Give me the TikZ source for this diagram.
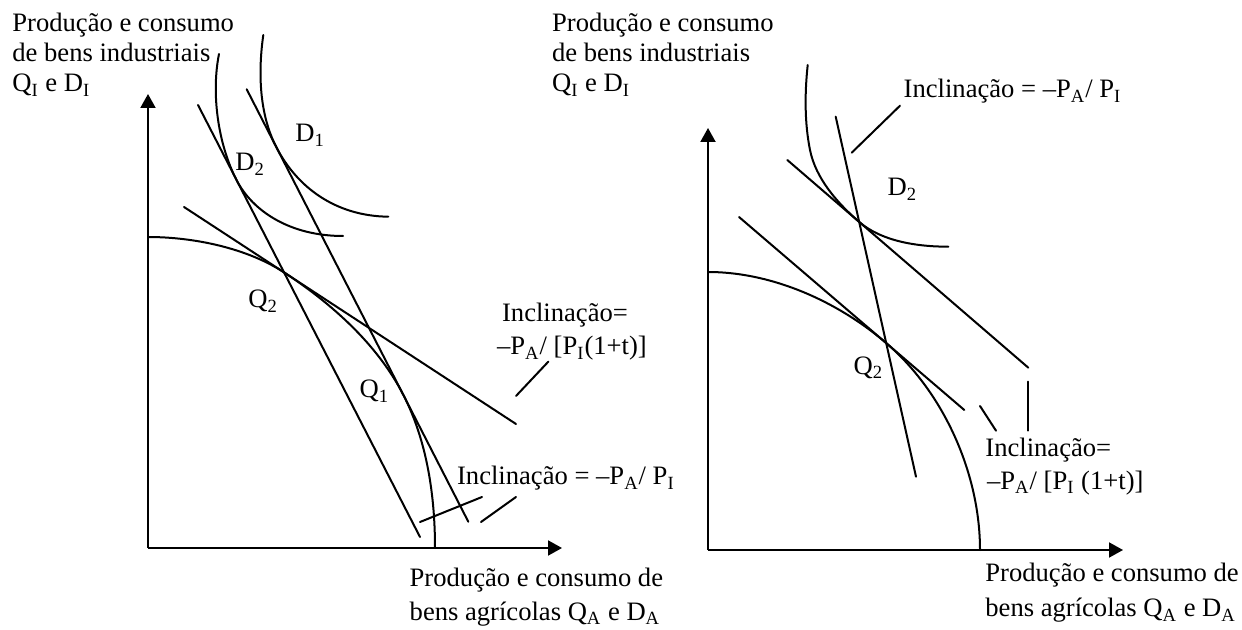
\documentclass[tikz,border=0pt]{standalone}
\usepackage{fontspec}
\setmainfont{Liberation Serif}
\usetikzlibrary{arrows.meta,calc}
\begin{document}
\begin{tikzpicture}[x=0.5pt,y=-0.5pt,
  curve/.style={line width=1pt,line cap=round},
  axisline/.style={line width=1pt,-{Triangle[length=7pt,width=7.5pt]}},
  lbl/.style={anchor=base west,inner sep=0pt,font=\fontsize{13.3}{15}\selectfont}]
\useasboundingbox (0,0) rectangle (1242,630);

% ================= LEFT PANEL =================
\coordinate (LO) at (148,548);
\coordinate (LY) at (148,94);
\coordinate (LX) at (562,548);
\draw[axisline] (LO) -- (LY);
\draw[axisline] (LO) -- (LX);

% price lines
\coordinate (A1) at (198,105);   \coordinate (A2) at (420,537);
\coordinate (B1) at (246.7,89.3);\coordinate (B2) at (468.3,521.7);
\coordinate (C1) at (184,207);   \coordinate (C2) at (516,424);
\draw[curve] (A1) -- (A2);
\draw[curve] (B1) -- (B2);
\draw[curve] (C1) -- (C2);

% production possibility frontier
\coordinate (S) at (148,237);
\coordinate (P) at (intersection of A1--A2 and C1--C2);
\coordinate (Q1p) at (403.4,395);
\coordinate (E) at (435,548);
\draw[curve] (S) .. controls (193,237) and ($(P)+(-37.7,-24.6)$) .. (P)
  .. controls ($(P)+(47.7,31.2)$) and ($(Q1p)+(-26,-50.7)$) .. (Q1p)
  .. controls ($(Q1p)+(23.7,46.3)$) and (435,496) .. (E);

% indifference curves
\coordinate (D2t) at (219,54);
\coordinate (T2) at (236.5,180);
\coordinate (D2e) at (343,236);
\draw[curve] (D2t) .. controls (211,94) and ($(T2)+(-18.3,-35.6)$) .. (T2)
  .. controls ($(T2)+(16,31.1)$) and (290,236) .. (D2e);
\coordinate (D1t) at (263.3,35);
\coordinate (T1) at (276.1,146.7);
\coordinate (D1e) at (388.3,216.7);
\draw[curve] (D1t) .. controls (258,72) and ($(T1)+(-16.9,-32.9)$) .. (T1)
  .. controls ($(T1)+(20.5,40.1)$) and (335,216) .. (D1e);

% leaders
\coordinate (L1a) at (548.3,361.7); \coordinate (L1b) at (516,396);
\coordinate (L2a) at (482,497);     \coordinate (L2b) at (420,522);
\coordinate (L3a) at (516,497);     \coordinate (L3b) at (481,522);
\draw[curve] (L1a) -- (L1b);
\draw[curve] (L2a) -- (L2b);
\draw[curve] (L3a) -- (L3b);

% labels
\node[lbl] (ly1) at (12,31.7) {Produção e consumo};
\node[lbl] (ly2) at (12,61.7) {de bens industriais};
\node[lbl] (ly3) at (12,92) {Q\textsubscript{I} e D\textsubscript{I}};
\node[lbl] (ld1) at (295,141.7) {D\textsubscript{1}};
\node[lbl] (ld2) at (235,170.7) {D\textsubscript{2}};
\node[lbl] (lq2) at (248,308) {Q\textsubscript{2}};
\node[lbl] (lq1) at (359.3,397.7) {Q\textsubscript{1}};
\node[lbl] (li1) at (501.7,321.7) {Inclinação=};
\node[lbl] (li2) at (496.7,355) {–P\textsubscript{A}/ [P\textsubscript{I}(1+t)]};
\node[lbl] (li3) at (456.7,485) {Inclinação = –P\textsubscript{A}/ P\textsubscript{I}};
\node[lbl] (lx1) at (409.3,586) {Produção e consumo de};
\node[lbl] (lx2) at (409.3,620) {bens agrícolas Q\textsubscript{A} e D\textsubscript{A}};

% ================= RIGHT PANEL =================
\coordinate (RO) at (708,550);
\coordinate (RY) at (708,128);
\coordinate (RX) at (1123,550);
\draw[axisline] (RO) -- (RY);
\draw[axisline] (RO) -- (RX);

\coordinate (R1a) at (835.7,116.7); \coordinate (R1b) at (916,476.7);
\coordinate (R2a) at (787.3,160);   \coordinate (R2b) at (1028.3,367.7);
\coordinate (R3a) at (739,217);     \coordinate (R3b) at (964.3,410);
\draw[curve] (R1a) -- (R1b);
\draw[curve] (R2a) -- (R2b);
\draw[curve] (R3a) -- (R3b);

\coordinate (RS) at (708,272);
\coordinate (RQ) at (intersection of R1a--R1b and R3a--R3b);
\coordinate (RE) at (980,550);
\draw[curve] (RS) .. controls (772,272) and ($(RQ)+(-48.6,-41.7)$) .. (RQ)
  .. controls ($(RQ)+(57.8,49.5)$) and (980,474) .. (RE);

\coordinate (RDt) at (807.7,65);
\coordinate (RM) at (810,150);
\coordinate (RT) at (intersection of R1a--R1b and R2a--R2b);
\coordinate (RDe) at (948.3,246.7);
\draw[curve] (RDt) .. controls (804.7,93) and ($(RM)+(-5.5,-27.5)$) .. (RM)
  .. controls ($(RM)+(5.7,28.4)$) and ($(RT)+(-22,-18.9)$) .. (RT)
  .. controls ($(RT)+(22.7,19.6)$) and (918,246.7) .. (RDe);

\coordinate (RL1a) at (900,105.7); \coordinate (RL1b) at (851.7,152.7);
\coordinate (RL2a) at (980,406);   \coordinate (RL2b) at (996,430.7);
\coordinate (RL3a) at (1028.3,381.7); \coordinate (RL3b) at (1028.3,430.7);
\draw[curve] (RL1a) -- (RL1b);
\draw[curve] (RL2a) -- (RL2b);
\draw[curve] (RL3a) -- (RL3b);

\node[lbl] (ry1) at (551.7,31.7) {Produção e consumo};
\node[lbl] (ry2) at (551.7,61.7) {de bens industriais};
\node[lbl] (ry3) at (551.7,92) {Q\textsubscript{I} e D\textsubscript{I}};
\node[lbl] (ri0) at (903.3,98) {Inclinação = –P\textsubscript{A}/ P\textsubscript{I}};
\node[lbl] (rd2) at (887.3,195.7) {D\textsubscript{2}};
\node[lbl] (rq2) at (853.3,374.3) {Q\textsubscript{2}};
\node[lbl] (ri1) at (985,457) {Inclinação=};
\node[lbl] (ri2) at (986.7,489) {–P\textsubscript{A}/ [P\textsubscript{I} (1+t)]};
\node[lbl] (rx1) at (985,581.7) {Produção e consumo de};
\node[lbl] (rx2) at (985,616.7) {bens agrícolas Q\textsubscript{A} e D\textsubscript{A}};
\end{tikzpicture}
\end{document}
